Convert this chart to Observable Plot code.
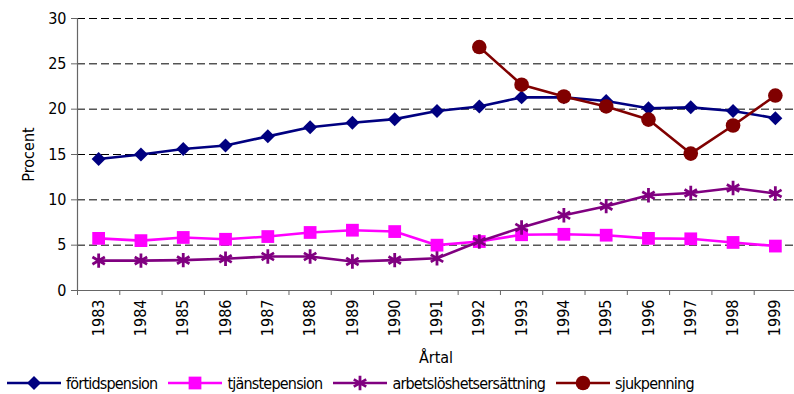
<!DOCTYPE html>
<html>
<head>
<meta charset="utf-8">
<script src="https://cdn.jsdelivr.net/npm/d3@7"></script>
<script src="https://cdn.jsdelivr.net/npm/@observablehq/plot@0.6"></script>
<style>
  html, body { margin: 0; padding: 0; background: #fff; }
  body { width: 794px; height: 394px; overflow: hidden; font-family: "Liberation Sans Narrow", "Arial Narrow", "DejaVu Sans Condensed", sans-serif; }
  #legend { display: flex; align-items: center; height: 22px; padding-left: 7px; font-size: 16px; letter-spacing: -0.8px; color: #000; }
  #legend .item { display: flex; align-items: center; margin-right: 11px; }
  #legend svg { display: block; margin-right: 5px; }
</style>
</head>
<body>
<div id="chart"></div>
<div id="legend"></div>
<script>
// Årtal 1983–1999
const years = [1983, 1984, 1985, 1986, 1987, 1988, 1989, 1990, 1991, 1992, 1993, 1994, 1995, 1996, 1997, 1998, 1999];

// Andel i procent per ersättningsform
const fortidspension = [14.5, 15.0, 15.6, 16.0, 17.0, 18.0, 18.5, 18.9, 19.8, 20.3, 21.3, 21.3, 20.9, 20.1, 20.2, 19.8, 19.0];
const tjanstepension = [5.75, 5.5, 5.85, 5.65, 5.95, 6.4, 6.65, 6.5, 5.0, 5.4, 6.15, 6.2, 6.1, 5.75, 5.7, 5.3, 4.9];
const arbetsloshet  = [3.3, 3.3, 3.35, 3.5, 3.75, 3.75, 3.2, 3.35, 3.55, 5.4, 6.95, 8.3, 9.3, 10.5, 10.75, 11.3, 10.7];
const sjukpenning   = [null, null, null, null, null, null, null, null, null, 26.85, 22.7, 21.4, 20.3, 18.85, 15.1, 18.2, 21.5];

const yTicks = [0, 5, 10, 15, 20, 25, 30];

const series = [
  {name: "förtidspension", values: fortidspension, color: "#000080", symbol: "diamond2", r: 6.3, filled: true},
  {name: "tjänstepension", values: tjanstepension, color: "#ff00ff", symbol: "square", r: 7.2, filled: true},
  {name: "arbetslöshetsersättning", values: arbetsloshet, color: "#800080", symbol: "asterisk", r: 6.8, filled: false},
  {name: "sjukpenning", values: sjukpenning, color: "#800000", symbol: "circle", r: 7.3, filled: true}
];

const bounds = d3.range(years.length + 1).map(i => years[0] - 0.5 + i);
const axisColor = "#666";

const marks = [
  Plot.gridY({ticks: yTicks.filter(d => d > 0), stroke: "#000", strokeOpacity: 1, strokeWidth: 1, strokeDasharray: "8,4"}),
  Plot.ruleX([bounds[0]], {y1: 0, y2: 30, stroke: axisColor, strokeWidth: 1.2}),
  Plot.ruleY([0], {stroke: axisColor, strokeWidth: 1.2}),
  Plot.axisY({ticks: yTicks, tickSize: 6, tickPadding: 5, stroke: axisColor, fill: "#000",
    label: "Procent", labelAnchor: "center", labelArrow: "none", labelOffset: 55}),
  Plot.axisX({ticks: bounds, tickSize: 5, tickFormat: () => "", stroke: axisColor, label: null}),
  Plot.axisX({ticks: years, tickSize: 0, tickPadding: 9, tickRotate: -90, tickFormat: d => String(d), fill: "#000",
    label: "Årtal", labelAnchor: "center", labelArrow: "none", labelOffset: 72})
];

for (const s of series) {
  const rows = years.map((year, i) => ({year, value: s.values[i]})).filter(d => d.value != null);
  marks.push(Plot.line(rows, {x: "year", y: "value", stroke: s.color, strokeWidth: 2.6}));
  marks.push(Plot.dot(rows, {
    x: "year", y: "value", symbol: () => s.symbol, r: s.r,
    fill: s.filled ? s.color : "none",
    stroke: s.filled ? "none" : s.color,
    strokeWidth: s.filled ? 0 : 2.8
  }));
}

const chart = Plot.plot({
  width: 794,
  height: 372,
  marginTop: 18,
  marginLeft: 77,
  marginRight: 0,
  marginBottom: 82,
  style: {fontFamily: "'Liberation Sans Narrow', 'Arial Narrow', 'DejaVu Sans Condensed', sans-serif", fontSize: "16px", background: "#fff", color: "#000"},
  x: {type: "linear", domain: [bounds[0], bounds[bounds.length - 1]], range: [77, 796]},
  y: {domain: [0, 30], range: [290, 18]},
  marks
});
document.getElementById("chart").appendChild(chart);

// Legend: line sample with the series marker, then the name
const legend = d3.select("#legend");
for (const s of series) {
  const item = legend.append("div").attr("class", "item");
  const svg = item.append("svg").attr("width", 54).attr("height", 20);
  svg.append("line").attr("x1", 0).attr("x2", 54).attr("y1", 10).attr("y2", 10)
    .attr("stroke", s.color).attr("stroke-width", 2.6);
  const sym = {diamond2: d3.symbolDiamond2, square: d3.symbolSquare, asterisk: d3.symbolAsterisk, circle: d3.symbolCircle}[s.symbol];
  svg.append("path").attr("transform", "translate(27,10)")
    .attr("d", d3.symbol(sym, Math.PI * s.r * s.r)())
    .attr("fill", s.filled ? s.color : "none")
    .attr("stroke", s.filled ? "none" : s.color)
    .attr("stroke-width", 2.8);
  item.append("span").text(s.name);
}
</script>
</body>
</html>
